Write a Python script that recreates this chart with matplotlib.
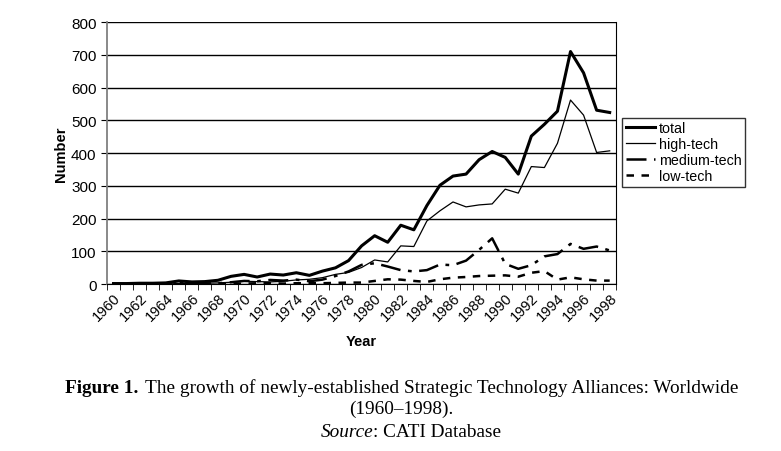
"""Strategic Technology Alliances growth chart (1960-1998)."""

import numpy as np
from matplotlib import pyplot as plt

years = list(range(1960, 1999))
total = [2, 2, 3, 3, 4, 10, 7, 8, 12, 24, 30, 22, 31, 28, 35, 27, 40, 50, 72, 117,
         148, 128, 180, 166, 240, 302, 330, 336, 380, 405, 387, 336, 452, 488, 528,
         710, 645, 531, 524]
high_tech = [0, 0, 0, 0, 0, 2, 2, 3, 4, 6, 9, 8, 7, 9, 13, 15, 20, 30, 36, 51,
             74, 68, 117, 115, 193, 224, 251, 236, 242, 245, 290, 278, 359, 356, 430,
             562, 516, 402, 407]
medium_tech = [0, 0, 0, 0, 0, 3, 2, 2, 3, 6, 10, 9, 13, 11, 14, 9, 14, 25, 39, 59,
               64, 54, 43, 39, 43, 60, 58, 72, 105, 140, 62, 47, 58, 85, 92,
               123, 108, 115, 103]
low_tech = [0, 0, 0, 0, 0, 0, 1, 1, 1, 1, 2, 3, 3, 2, 3, 3, 3, 4, 5, 5,
            10, 15, 14, 10, 7, 15, 20, 22, 25, 26, 27, 23, 35, 40, 14,
            21, 15, 11, 11]
year_labels = [str(y) for y in years[::2]]

plt.rcParams["font.family"] = ["Liberation Sans", "DejaVu Sans"]

fig = plt.figure(figsize=(7.81, 4.52), dpi=100)
ax = fig.add_axes([0.137, 0.369, 0.652, 0.580])

ax.plot(years, total, color="black", lw=2.2, label="total")
ax.plot(years, high_tech, color="black", lw=0.9, label="high-tech")
ax.plot(years, medium_tech, color="black", lw=1.8, dashes=(8, 3, 1.5, 3),
        label="medium-tech")
ax.plot(years, low_tech, color="black", lw=1.8, dashes=(3, 3), label="low-tech")

ax.set_xlim(1959.5, 1998.5)
ax.set_ylim(0, 800)
ax.set_yticks(np.arange(0, 801, 100))
ax.yaxis.grid(True, color="black", lw=1)
ax.set_axisbelow(True)

# category axis: labels at centres, tick marks between categories
ax.set_xticks(years[::2])
ax.set_xticklabels(year_labels, rotation=45, ha="right", rotation_mode="anchor",
                   fontsize=10.5)
ax.set_xticks(np.arange(1959.5, 1999, 1), minor=True)
ax.tick_params(axis="x", which="major", length=0, pad=4)
ax.tick_params(axis="x", which="minor", length=4, direction="out", color="black")
ax.tick_params(axis="y", length=4, direction="out", labelsize=11, color="black")

for side in ["left", "bottom", "right", "top"]:
    ax.spines[side].set_color("black")
ax.spines["left"].set_color("#808080")
ax.spines["left"].set_linewidth(1.3)
ax.spines["top"].set_visible(False)

ax.set_xlabel("Year", fontsize=10.5, fontweight="bold", labelpad=8)
ax.set_ylabel("Number", fontsize=10.5, fontweight="bold", labelpad=2)

leg = ax.legend(loc="center left", bbox_to_anchor=(1.012, 0.504), frameon=True,
                fancybox=False, edgecolor="black", fontsize=10.3, handlelength=2.0,
                handletextpad=0.3, borderpad=0.25, labelspacing=0.14,
                borderaxespad=0)
leg.get_frame().set_linewidth(1.0)

serif = ["Liberation Serif", "DejaVu Serif"]
fig.text(0.083, 0.130, "Figure 1.", family=serif, fontsize=13.9,
         fontweight="bold", va="baseline")
fig.text(0.186, 0.130, "The growth of newly-established Strategic Technology "
         "Alliances: Worldwide", family=serif, fontsize=13.9, va="baseline")
fig.text(0.514, 0.084, "(1960\u20131998).", family=serif, fontsize=13.9,
         va="baseline", ha="center")
fig.text(0.478, 0.033, "Source", family=serif, fontsize=13.9, style="italic",
         va="baseline", ha="right")
fig.text(0.478, 0.033, ": CATI Database", family=serif, fontsize=13.9,
         va="baseline", ha="left")

fig.savefig("out.png", dpi=100)
